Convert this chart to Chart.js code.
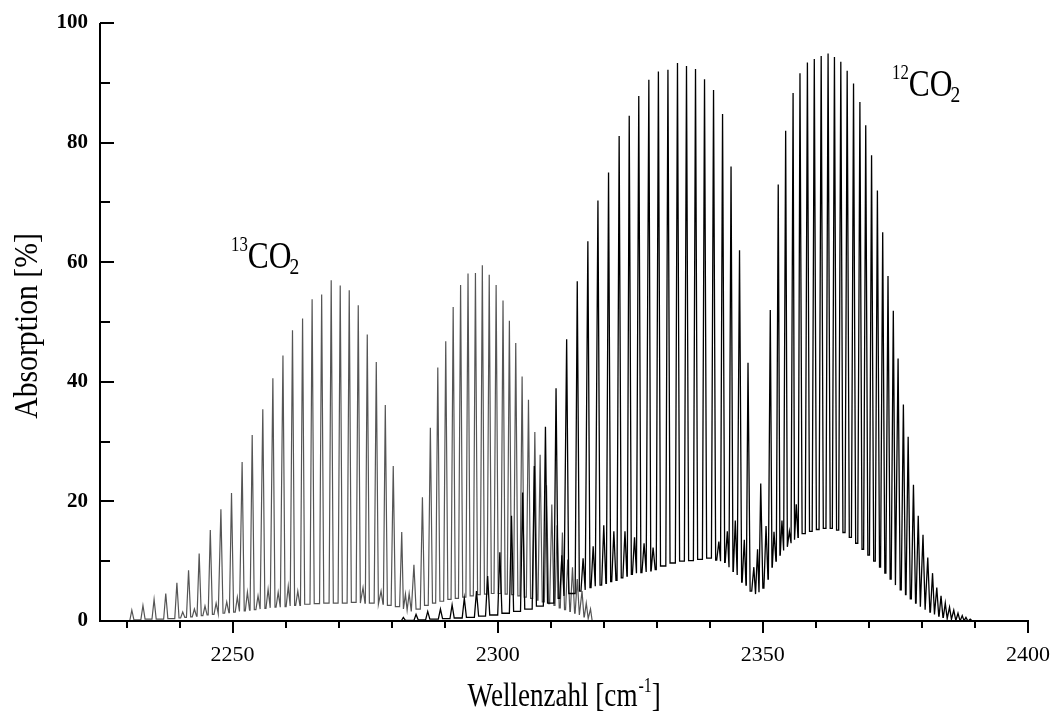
<!DOCTYPE html>
<html>
<head>
<meta charset="utf-8">
<title>CO2 Absorption</title>
<script src="https://cdn.jsdelivr.net/npm/chart.js@4.4.0/dist/chart.umd.min.js"></script>
<style>
  html, body { margin: 0; padding: 0; background: #fff; }
  #wrap { width: 1053px; height: 715px; }
</style>
</head>
<body>
<div id="wrap"><canvas id="myChart" width="1053" height="715"></canvas></div>
<script>
// tick labels
const xTickLabels = [2250, 2300, 2350, 2400];
const yTickLabels = [0, 20, 40, 60, 80, 100];

// 13CO2 band (grey): line positions [cm-1], peak absorption [%], floor between lines [%]
const co2_13_range = [2230.0, 2318.2];
const co2_13_pos = [
  2231.0, 2233.1, 2235.2, 2237.4, 2239.5, 2240.6, 2241.7, 2242.8, 2243.7, 2244.8,
  2245.8, 2246.9, 2247.8, 2248.9, 2249.8, 2250.9, 2251.8, 2252.8, 2253.7, 2254.8,
  2255.7, 2256.7, 2257.6, 2258.6, 2259.5, 2260.5, 2261.3, 2262.3, 2263.2, 2265.0,
  2266.8, 2268.6, 2270.3, 2272.0, 2273.7, 2274.6, 2275.4, 2277.1, 2278.0, 2278.8,
  2280.3, 2281.9, 2282.6, 2283.3, 2284.2, 2285.8, 2287.3, 2288.7, 2290.2, 2291.6,
  2293.0, 2294.4, 2295.8, 2297.1, 2298.4, 2299.7, 2301.0, 2302.2, 2303.4, 2304.6,
  2305.8, 2307.0, 2308.0, 2309.2, 2310.2, 2311.2, 2312.2, 2313.2, 2314.1, 2315.0,
  2315.9, 2316.7, 2317.5
];
const co2_13_abs = [
  1.8, 2.6, 3.6, 4.6, 6.4, 1.5, 8.5, 2.0, 11.3, 2.5,
  15.2, 3.0, 18.7, 3.2, 21.4, 4.0, 26.6, 4.8, 31.1, 4.2,
  35.4, 5.3, 40.6, 4.8, 44.4, 5.8, 48.6, 5.0, 50.6, 53.8,
  54.6, 57.0, 56.1, 55.3, 52.8, 5.6, 47.9, 43.3, 5.0, 36.1,
  25.9, 14.9, 4.5, 4.6, 9.4, 20.7, 32.3, 42.4, 46.8, 52.5,
  56.2, 58.1, 58.2, 59.5, 57.9, 56.2, 53.6, 50.2, 46.5, 40.9,
  37.0, 31.6, 27.8, 22.7, 19.5, 16.0, 14.8, 10.3, 9.0, 7.0,
  5.0, 3.0, 2.0
];
const co2_13_floor = [
  0.0, 0.2, 0.3, 0.3, 0.4, 0.5, 0.6, 0.7, 0.8, 0.9,
  1.0, 1.1, 1.2, 1.3, 1.4, 1.5, 1.6, 1.7, 1.8, 1.9,
  2.0, 2.1, 2.2, 2.3, 2.3, 2.4, 2.5, 2.6, 2.6, 2.8,
  2.9, 3.0, 3.0, 3.0, 3.1, 3.0, 3.0, 3.0, 2.8, 2.8,
  2.6, 2.4, 2.0, 1.8, 1.6, 2.0, 2.6, 3.0, 3.3, 3.6,
  3.8, 4.0, 4.2, 4.4, 4.5, 4.6, 4.6, 4.5, 4.4, 4.2,
  4.0, 3.8, 3.5, 3.2, 2.9, 2.6, 2.2, 1.9, 1.6, 1.3,
  1.0, 0.7, 0.4, 0.0
];

// 12CO2 band (black)
const co2_12_range = [2280.0, 2391.0];
const co2_12_pos = [
  2282.2, 2284.6, 2286.8, 2289.2, 2291.4, 2293.7, 2296.0, 2298.1, 2300.4, 2302.6,
  2304.7, 2306.9, 2309.0, 2311.0, 2312.1, 2313.0, 2315.0, 2316.1, 2317.0, 2318.0,
  2318.9, 2320.0, 2320.9, 2321.9, 2322.9, 2324.0, 2324.8, 2325.8, 2326.6, 2327.6,
  2328.5, 2329.3, 2330.3, 2332.1, 2333.9, 2335.6, 2337.3, 2339.0, 2340.7, 2341.7,
  2342.4, 2343.3, 2344.0, 2344.8, 2345.6, 2346.5, 2347.2, 2348.3, 2349.0, 2349.6,
  2350.6, 2351.4, 2352.1, 2352.9, 2353.6, 2354.3, 2355.0, 2355.7, 2356.3, 2357.0,
  2358.4, 2359.7, 2361.0, 2362.3, 2363.5, 2364.7, 2365.9, 2367.1, 2368.3, 2369.4,
  2370.5, 2371.6, 2372.6, 2373.6, 2374.6, 2375.5, 2376.5, 2377.4, 2378.4, 2379.3,
  2380.2, 2381.1, 2382.0, 2382.8, 2383.6, 2384.4, 2385.2, 2386.0, 2386.8, 2387.6,
  2388.3, 2389.1
];
const co2_12_abs = [
  0.6, 1.1, 1.6, 2.0, 2.7, 3.8, 5.0, 7.5, 11.5, 17.6,
  21.5, 25.9, 32.5, 38.9, 11.0, 47.1, 56.8, 10.5, 63.5, 12.5,
  70.3, 16.0, 75.0, 15.0, 81.1, 15.0, 84.5, 14.0, 87.8, 13.0,
  90.5, 12.3, 91.9, 92.2, 93.3, 92.8, 92.3, 90.6, 88.8, 13.3,
  84.8, 15.0, 76.0, 16.8, 62.0, 13.6, 43.2, 9.0, 12.0, 23.0,
  15.9, 52.0, 14.9, 73.0, 16.8, 82.0, 15.0, 88.3, 19.5, 91.6,
  93.4, 94.0, 94.5, 94.9, 94.3, 93.5, 92.0, 89.9, 86.8, 82.9,
  77.9, 72.0, 65.0, 57.7, 51.9, 43.9, 36.2, 30.8, 22.8, 17.6,
  14.4, 10.6, 8.0, 5.6, 4.2, 3.0, 2.3, 1.8, 1.3, 0.9,
  0.6, 0.3
];
const co2_12_floor = [
  0.0, 0.1, 0.2, 0.3, 0.4, 0.5, 0.6, 0.8, 1.0, 1.3,
  1.6, 2.0, 2.5, 3.0, 3.8, 4.2, 4.6, 5.0, 5.2, 5.6,
  5.8, 6.0, 6.3, 6.6, 6.8, 7.2, 7.5, 7.8, 8.0, 8.1,
  8.2, 8.4, 8.6, 9.2, 9.7, 10.0, 10.1, 10.3, 10.5, 10.2,
  10.0, 9.8, 9.0, 8.3, 7.7, 6.5, 6.0, 5.0, 4.5, 4.8,
  5.5, 7.0, 9.0, 10.0, 11.0, 11.8, 12.4, 13.0, 13.6, 14.0,
  14.6, 15.0, 15.3, 15.5, 15.5, 15.2, 14.8, 14.0, 13.0, 12.0,
  11.0, 10.0, 9.0, 8.0, 7.0, 6.0, 5.2, 4.4, 3.7, 3.0,
  2.4, 1.9, 1.5, 1.1, 0.8, 0.6, 0.4, 0.3, 0.2, 0.1,
  0.1, 0.0, 0.0
];

const lineHalfWidth = 0.4; // drawn half width of a line at its foot, cm-1

// peak/floor lists -> {x, y} points for the line dataset
function buildSpectrum(pos, abs, floor, range) {
  const pts = [{ x: range[0], y: floor[0] }];
  for (let i = 0; i < pos.length; i++) {
    const left = i === 0 ? range[0] : pos[i - 1];
    const right = i === pos.length - 1 ? range[1] : pos[i + 1];
    const wl = Math.min(lineHalfWidth, (pos[i] - left) / 2.2);
    const wr = Math.min(lineHalfWidth, (right - pos[i]) / 2.2);
    pts.push({ x: pos[i] - wl, y: floor[i] });
    pts.push({ x: pos[i], y: abs[i] });
    pts.push({ x: pos[i] + wr, y: floor[i + 1] });
  }
  pts.push({ x: range[1], y: floor[pos.length] });
  return pts;
}

function drawText(ctx, text, x, y, font, sx, align) {
  ctx.save();
  ctx.font = font;
  ctx.textBaseline = 'alphabetic';
  ctx.textAlign = 'left';
  const w = ctx.measureText(text).width * sx;
  ctx.translate(align === 'right' ? x - w : x, y);
  ctx.scale(sx, 1);
  ctx.fillText(text, 0, 0);
  ctx.restore();
  return w;
}

// a molecule label like 13CO2 with superscript and subscript
function drawMolecule(ctx, mass, x, y) {
  let cx = x;
  cx += drawText(ctx, mass, cx, y - 17, '21px "Liberation Serif"', 0.8);
  cx += drawText(ctx, 'CO', cx, y, '37px "Liberation Serif"', 0.85) - 2;
  drawText(ctx, '2', cx, y + 6, '23px "Liberation Serif"', 0.85);
}

const framePlugin = {
  id: 'frame',
  afterDraw(chart) {
    const ctx = chart.ctx;
    const a = chart.chartArea;
    const xs = chart.scales.x;
    const ys = chart.scales.y;
    ctx.save();
    ctx.strokeStyle = '#000';
    ctx.fillStyle = '#000';
    ctx.lineWidth = 2;
    ctx.beginPath();
    ctx.moveTo(a.left, a.top);
    ctx.lineTo(a.left, a.bottom + 1);
    ctx.moveTo(a.left - 1, a.bottom);
    ctx.lineTo(a.right + 1, a.bottom);
    // y ticks point inward, x ticks point down
    for (let v = 0; v <= 100; v += 10) {
      const py = Math.round(ys.getPixelForValue(v));
      const len = yTickLabels.includes(v) ? 14 : 10;
      ctx.moveTo(a.left, py);
      ctx.lineTo(a.left + len, py);
    }
    for (let v = 2230; v <= 2400; v += 10) {
      const px = Math.round(xs.getPixelForValue(v));
      const len = xTickLabels.includes(v) ? 12 : 7;
      ctx.moveTo(px, a.bottom);
      ctx.lineTo(px, a.bottom + len);
    }
    ctx.stroke();

    // axis titles
    const xt1 = 'Wellenzahl [cm';
    ctx.font = '33px "Liberation Serif"';
    const sx = 0.82;
    const total = (ctx.measureText(xt1).width + ctx.measureText(']').width) * sx + 14;
    let cx = (a.left + a.right) / 2 - total / 2;
    cx += drawText(ctx, xt1, cx, 706, '33px "Liberation Serif"', sx);
    cx += drawText(ctx, '-1', cx + 1, 692, '20px "Liberation Serif"', 0.8) + 1;
    drawText(ctx, ']', cx, 706, '33px "Liberation Serif"', sx);

    ctx.save();
    ctx.translate(37, (a.top + a.bottom) / 2 + 4);
    ctx.rotate(-Math.PI / 2);
    ctx.font = '33px "Liberation Serif"';
    const yt = 'Absorption [%]';
    const yw = ctx.measureText(yt).width * 0.9;
    drawText(ctx, yt, -yw / 2, 0, '33px "Liberation Serif"', 0.9);
    ctx.restore();

    drawMolecule(ctx, '13', 231, 268);
    drawMolecule(ctx, '12', 892, 96);
    ctx.restore();
  }
};

const ctx = document.getElementById('myChart').getContext('2d');

const myChart = new Chart(ctx, {
  type: 'line',
  data: {
    datasets: [
      {
        label: '12CO2',
        data: buildSpectrum(co2_12_pos, co2_12_abs, co2_12_floor, co2_12_range),
        borderColor: '#000000',
        borderWidth: 1.3,
        pointRadius: 0,
        tension: 0,
        order: 0
      },
      {
        label: '13CO2',
        data: buildSpectrum(co2_13_pos, co2_13_abs, co2_13_floor, co2_13_range),
        borderColor: '#555555',
        borderWidth: 1.2,
        pointRadius: 0,
        tension: 0,
        order: 1
      }
    ]
  },
  options: {
    responsive: false,
    animation: false,
    layout: { padding: { top: 23, right: 25, left: 0, bottom: 0 } },
    plugins: { legend: { display: false }, tooltip: { enabled: false } },
    scales: {
      x: {
        type: 'linear',
        min: 2225,
        max: 2400,
        grid: { display: false, drawTicks: false },
        border: { display: false },
        afterFit: (s) => { s.height = 94; s.paddingLeft = 0; s.paddingRight = 0; },
        ticks: {
          stepSize: 10,
          autoSkip: false,
          maxRotation: 0,
          padding: 21,
          color: '#000',
          font: { family: '"Liberation Serif"', size: 22 },
          callback: (v) => xTickLabels.includes(v) ? String(v) : ''
        }
      },
      y: {
        min: 0,
        max: 100,
        grid: { display: false, drawTicks: false },
        border: { display: false },
        afterFit: (s) => { s.width = 100; s.paddingTop = 0; s.paddingBottom = 0; },
        ticks: {
          stepSize: 20,
          padding: 12,
          color: '#000',
          font: { family: '"Liberation Serif"', size: 21, weight: 'bold' },
          callback: (v) => yTickLabels.includes(v) ? String(v) : ''
        }
      }
    }
  },
  plugins: [framePlugin]
});
</script>
</body>
</html>
